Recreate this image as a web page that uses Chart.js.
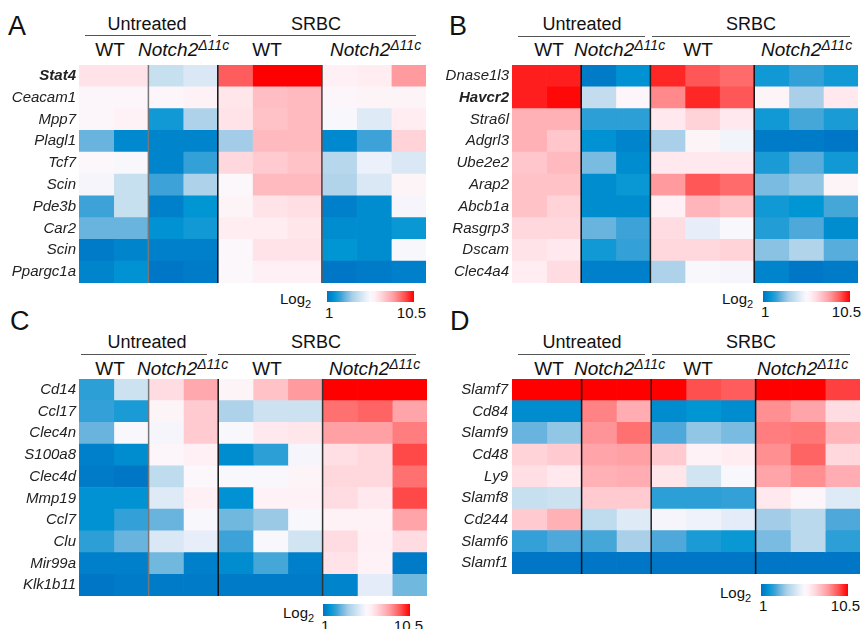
<!DOCTYPE html>
<html>
<head>
<meta charset="utf-8">
<script src="https://cdn.jsdelivr.net/npm/chart.js@4/dist/chart.umd.min.js"></script>
<style>
  body { margin: 0; background: #fff; font-family: "Liberation Sans", Arial, sans-serif; color: #111; }
  #fig { position: relative; width: 862px; height: 629px; overflow: hidden; }
  canvas { position: absolute; }
  .t { position: absolute; line-height: 1; white-space: nowrap; }
  .ln { position: absolute; height: 0; border-top: 1.5px solid #555; }
  .bar { position: absolute; }
</style>
</head>
<body>
<div id="fig"></div>
<script>
// ---- data ----
const columnGroups = [2, 2, 3, 3];   // Untreated WT, Untreated Notch2, SRBC WT, SRBC Notch2
const scaleMin = 1, scaleMax = 10.5;
const boldGenes = ['Stat4', 'Havcr2'];

const genesA = ['Stat4', 'Ceacam1', 'Mpp7', 'Plagl1', 'Tcf7', 'Scin', 'Pde3b', 'Car2', 'Scin', 'Ppargc1a'];
const valuesA = [
  [6.6, 6.6, 4.5, 4.9, 9.3, 10.5, 10.5, 6.2, 6.3, 8.3],
  [5.9, 5.9, 5.9, 6.1, 6.5, 7.5, 7.6, 5.9, 6.0, 6.0],
  [5.9, 6.1, 2.0, 3.9, 6.6, 7.4, 7.6, 5.7, 5.0, 6.3],
  [3.0, 1.5, 1.4, 1.4, 3.7, 7.6, 7.6, 1.5, 2.5, 7.0],
  [5.8, 5.7, 1.4, 2.4, 6.9, 7.2, 7.4, 4.1, 5.3, 4.9],
  [5.6, 4.5, 2.5, 3.9, 5.8, 7.6, 7.6, 4.0, 4.9, 6.0],
  [2.5, 4.5, 1.3, 1.8, 6.0, 6.6, 6.7, 1.3, 1.6, 5.6],
  [3.0, 3.0, 1.7, 2.0, 6.3, 6.3, 6.5, 1.6, 1.6, 1.9],
  [1.2, 1.4, 1.3, 1.3, 5.8, 6.6, 6.6, 1.8, 1.6, 5.7],
  [1.4, 1.7, 1.1, 1.2, 5.8, 6.2, 6.2, 1.1, 1.2, 1.3]
];

const genesB = ['Dnase1l3', 'Havcr2', 'Stra6l', 'Adgrl3', 'Ube2e2', 'Arap2', 'Abcb1a', 'Rasgrp3', 'Dscam', 'Clec4a4'];
const valuesB = [
  [10.1, 10.1, 1.2, 1.7, 10.0, 9.4, 9.1, 2.0, 2.4, 2.0],
  [10.1, 10.4, 4.4, 5.9, 8.6, 10.0, 9.4, 6.0, 3.8, 6.4],
  [7.8, 7.8, 2.3, 2.3, 6.4, 7.0, 6.4, 2.0, 2.6, 2.1],
  [7.8, 7.3, 1.7, 1.4, 3.8, 6.0, 5.5, 1.2, 1.2, 1.1],
  [7.3, 7.6, 3.2, 1.6, 6.4, 6.4, 6.4, 2.1, 2.8, 2.0],
  [7.4, 7.4, 1.6, 1.9, 8.3, 9.4, 9.1, 3.2, 3.5, 6.0],
  [7.4, 7.0, 1.6, 1.6, 6.2, 7.7, 7.4, 2.0, 1.8, 2.6],
  [6.9, 6.9, 3.0, 2.5, 6.8, 5.2, 5.7, 2.2, 2.7, 1.6],
  [6.6, 6.4, 2.0, 2.4, 6.9, 6.9, 7.0, 3.4, 4.0, 2.8],
  [6.3, 6.8, 1.3, 1.3, 3.9, 5.7, 5.6, 1.4, 1.1, 1.2]
];

const genesC = ['Cd14', 'Ccl17', 'Clec4n', 'S100a8', 'Clec4d', 'Mmp19', 'Ccl7', 'Clu', 'Mir99a', 'Klk1b11'];
const valuesC = [
  [2.3, 4.6, 6.8, 8.0, 6.0, 7.4, 8.3, 10.5, 10.5, 10.5],
  [2.4, 2.1, 6.0, 7.2, 3.9, 4.6, 4.6, 9.0, 9.2, 8.1],
  [3.0, 5.7, 5.6, 7.2, 5.7, 6.4, 6.5, 8.2, 8.2, 8.8],
  [1.3, 1.6, 5.9, 6.2, 1.6, 2.3, 5.6, 6.7, 6.9, 9.6],
  [1.2, 1.1, 4.3, 5.8, 5.7, 5.7, 6.0, 6.9, 6.9, 9.0],
  [1.7, 1.7, 5.0, 6.2, 1.7, 6.1, 6.1, 6.8, 6.4, 9.6],
  [1.7, 2.4, 3.0, 5.7, 3.1, 3.6, 5.7, 6.1, 6.1, 8.1],
  [2.3, 3.0, 4.9, 5.2, 2.5, 5.7, 4.7, 6.8, 6.2, 6.8],
  [1.3, 1.3, 3.1, 1.3, 1.6, 2.6, 1.3, 6.6, 6.1, 1.2],
  [1.1, 1.2, 1.2, 1.2, 1.2, 1.2, 1.2, 1.4, 5.1, 3.1]
];

const genesD = ['Slamf7', 'Cd84', 'Slamf9', 'Cd48', 'Ly9', 'Slamf8', 'Cd244', 'Slamf6', 'Slamf1'];
const valuesD = [
  [10.5, 10.5, 10.5, 10.5, 10.5, 9.5, 9.3, 10.5, 10.5, 9.7],
  [1.6, 1.6, 8.7, 7.9, 1.6, 1.8, 1.6, 8.5, 8.1, 6.8],
  [3.0, 3.5, 8.4, 9.0, 2.7, 3.5, 3.2, 8.8, 8.9, 7.7],
  [7.0, 7.2, 8.1, 8.2, 7.2, 6.1, 6.3, 8.5, 9.2, 6.9],
  [6.7, 6.4, 7.8, 7.9, 6.5, 4.7, 5.7, 8.1, 8.5, 7.9],
  [4.5, 4.6, 7.2, 7.2, 2.3, 2.3, 2.4, 6.4, 5.9, 5.0],
  [7.2, 7.8, 4.3, 5.0, 5.6, 5.4, 5.1, 3.7, 4.2, 2.7],
  [2.4, 2.7, 2.6, 3.8, 2.7, 2.1, 1.9, 3.2, 4.2, 2.3],
  [1.1, 1.1, 1.1, 1.1, 1.1, 1.1, 1.1, 1.1, 1.1, 1.1]
];

// ---- colour scale (blue - white - red) ----
const stops = [
  [0, [0, 114, 196]], [0.084, [0, 150, 212]], [0.158, [60, 162, 215]], [0.21, [105, 180, 222]],
  [0.295, [170, 208, 233]], [0.37, [200, 224, 240]], [0.45, [235, 240, 250]], [0.5, [250, 248, 252]],
  [0.547, [255, 240, 245]], [0.61, [255, 220, 225]], [0.684, [255, 190, 195]], [0.758, [255, 160, 165]],
  [0.83, [255, 120, 120]], [0.895, [255, 80, 80]], [0.958, [255, 30, 30]], [1, [255, 0, 0]]
];
function colorFor(v) {
  const t = Math.max(0, Math.min(1, (v - scaleMin) / (scaleMax - scaleMin)));
  for (let i = 1; i < stops.length; i++) {
    if (t <= stops[i][0]) {
      const [t0, c0] = stops[i - 1], [t1, c1] = stops[i];
      const f = (t - t0) / (t1 - t0);
      const c = c0.map((x, k) => Math.round(x + (c1[k] - x) * f));
      return `rgb(${c[0]},${c[1]},${c[2]})`;
    }
  }
  return 'rgb(255,0,0)';
}

const fig = document.getElementById('fig');
const FONT = '"Liberation Sans", Arial, sans-serif';

// vertical lines between groups
const dividers = {
  id: 'dividers',
  afterDatasetsDraw(chart, args, opts) {
    const { ctx, chartArea, scales } = chart;
    let acc = 0;
    columnGroups.slice(0, -1).forEach((n, i) => {
      acc += n;
      const x = scales.x.getPixelForValue(acc);
      ctx.save();
      ctx.strokeStyle = opts.colors[i];
      ctx.lineWidth = 1.5;
      ctx.beginPath();
      ctx.moveTo(x, chartArea.top);
      ctx.lineTo(x, chartArea.bottom);
      ctx.stroke();
      ctx.restore();
    });
  }
};

function heatmap(genes, values, box, lineColors) {
  const cv = document.createElement('canvas');
  cv.width = box.w; cv.height = box.h;
  cv.style.left = box.x + 'px'; cv.style.top = box.y + 'px';
  fig.appendChild(cv);
  const nCols = columnGroups.reduce((a, b) => a + b, 0);
  const datasets = [];
  for (let c = 0; c < nCols; c++) {
    datasets.push({
      data: genes.map(() => 1),
      backgroundColor: values.map(r => colorFor(r[c])),
      borderWidth: 0,
      barPercentage: 1,
      categoryPercentage: 1
    });
  }
  new Chart(cv, {
    type: 'bar',
    data: { labels: genes, datasets },
    options: {
      indexAxis: 'y',
      responsive: false,
      animation: false,
      events: [],
      layout: { padding: 0 },
      plugins: { legend: { display: false }, tooltip: { enabled: false }, dividers: { colors: lineColors } },
      scales: {
        x: { display: false, stacked: true, min: 0, max: nCols },
        y: {
          stacked: true,
          grid: { display: false, drawTicks: false },
          border: { display: false },
          afterFit: s => { s.width = box.axis; s.paddingTop = 0; s.paddingBottom = 0; },
          ticks: {
            autoSkip: false,
            color: '#222',
            padding: box.pad,
            font: ctx => ({ family: FONT, size: 15, style: 'italic',
              weight: boldGenes.includes(genes[ctx.index]) ? 'bold' : 'normal' })
          }
        }
      }
    },
    plugins: [dividers]
  });
}

// text helpers
function txt(html, x, y, size, align, extra) {
  const d = document.createElement('div');
  d.className = 't';
  d.innerHTML = html;
  d.style.fontSize = size + 'px';
  d.style.left = x + 'px';
  d.style.top = y + 'px';
  const tx = align === 'center' ? '-50%' : align === 'right' ? '-100%' : '0';
  d.style.transform = `translate(${tx},-50%)`;
  if (extra) Object.assign(d.style, extra);
  fig.appendChild(d);
}
function line(x1, x2, y) {
  const d = document.createElement('div');
  d.className = 'ln';
  d.style.left = x1 + 'px'; d.style.width = (x2 - x1) + 'px'; d.style.top = y + 'px';
  fig.appendChild(d);
}
const notch = '<i>Notch2<span style="font-size:14px;position:relative;top:-6px">&Delta;11c</span></i>';

function header(p) {
  txt(p.letter, p.lx, p.ly, 27, 'left');
  txt('Untreated', p.ux, p.hy, 18, 'center');
  txt('SRBC', p.sx, p.hy, 18, 'center');
  line(p.u1[0], p.u1[1], p.liney);
  line(p.u2[0], p.u2[1], p.liney);
  txt('WT', p.w1, p.sy, 19, 'center');
  txt(notch, p.n1, p.sy, 19, 'left');
  txt('WT', p.w2, p.sy, 19, 'center');
  txt(notch, p.n2, p.sy, 19, 'left');
}

const gradCss = 'linear-gradient(to right,' +
  stops.map(s => `rgb(${s[1].join(',')}) ${(s[0] * 100).toFixed(1)}%`).join(',') + ')';
function colorKey(k) {
  txt('Log<span style="font-size:11px;position:relative;top:4px">2</span>', k.lx, k.ly, 15, 'left');
  const b = document.createElement('div');
  b.className = 'bar';
  Object.assign(b.style, { left: k.bx + 'px', top: k.by + 'px', width: k.bw + 'px', height: k.bh + 'px', background: gradCss });
  fig.appendChild(b);
  txt(String(scaleMin), k.bx - 2, k.ny, 15, 'left');
  txt(String(scaleMax), k.nr, k.ny, 15, 'right');
}

// ---- panels ----
header({ letter: 'A', lx: 8, ly: 26, ux: 147, sx: 316, hy: 24, u1: [85, 211], u2: [218, 416], liney: 35,
  sy: 49, w1: 110, n1: 138, w2: 267, n2: 330 });
heatmap(genesA, valuesA, { x: 0, y: 65, w: 426, h: 218, axis: 79, pad: 3 }, ['#777', '#111', '#444']);
colorKey({ lx: 280, ly: 298, bx: 327, by: 291, bw: 87, bh: 11, ny: 312, nr: 426 });

header({ letter: 'B', lx: 449, ly: 26, ux: 582, sx: 751, hy: 24, u1: [518, 645], u2: [652, 850], liney: 36,
  sy: 49, w1: 549, n1: 574, w2: 698, n2: 761 });
heatmap(genesB, valuesB, { x: 431, y: 65, w: 427, h: 218, axis: 81, pad: 3 }, ['#111', '#222', '#111']);
colorKey({ lx: 722, ly: 298, bx: 763, by: 291, bw: 87, bh: 11, ny: 311, nr: 861 });

header({ letter: 'C', lx: 10, ly: 321, ux: 147, sx: 316, hy: 342, u1: [81, 207], u2: [218, 416], liney: 354,
  sy: 368, w1: 110, n1: 137, w2: 267, n2: 329 });
heatmap(genesC, valuesC, { x: 0, y: 379, w: 427, h: 217, axis: 79, pad: 3 }, ['#777', '#111', '#333']);
colorKey({ lx: 283, ly: 612, bx: 323, by: 604, bw: 87, bh: 12, ny: 625, nr: 423 });

header({ letter: 'D', lx: 450, ly: 321, ux: 582, sx: 751, hy: 342, u1: [518, 645], u2: [652, 850], liney: 354,
  sy: 368, w1: 549, n1: 574, w2: 698, n2: 757 });
heatmap(genesD, valuesD, { x: 431, y: 379, w: 429, h: 195, axis: 81, pad: 4 }, ['#111', '#222', '#111']);
colorKey({ lx: 720, ly: 592, bx: 761, by: 584, bw: 87, bh: 12, ny: 605, nr: 860 });
</script>
</body>
</html>
